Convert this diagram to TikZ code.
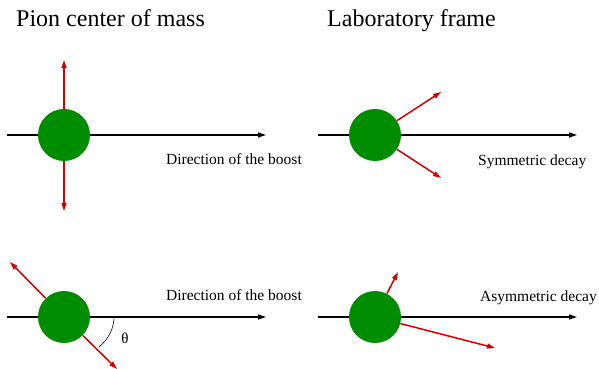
\documentclass[tikz,border=0pt]{standalone}
\usepackage{fontspec}
\setmainfont{Liberation Serif}
\usetikzlibrary{arrows.meta}
\definecolor{pion}{RGB}{0,140,0}
\definecolor{decay}{RGB}{215,0,0}
\begin{document}
\begin{tikzpicture}[x=1pt,y=1pt,
  pion/.style={circle,fill=pion,draw=none,minimum size=52pt,inner sep=0pt},
  axis/.style={line width=1.3pt,-{Triangle[length=8pt,width=5pt]}},
  photon/.style={line width=1.5pt,draw=decay,-{Triangle[length=8pt,width=5pt]}},
  title/.style={anchor=base west,inner sep=0pt,font=\fontsize{24}{28}\selectfont},
  lbl/.style={anchor=base west,inner sep=0pt,font=\fontsize{15.5}{18}\selectfont}]
\useasboundingbox (0,0) rectangle (599,369);
% titles
\node[title] (t1) at (16,342) {Pion center of mass};
\node[title] (t2) at (327,342) {Laboratory frame};
% axes
\coordinate (s1) at (7,234); \coordinate (e1) at (266,234);
\coordinate (s2) at (318,234); \coordinate (e2) at (577,234);
\coordinate (s3) at (7,52); \coordinate (e3) at (266,52);
\coordinate (s4) at (318,52); \coordinate (e4) at (577,52);
\draw[axis] (s1) -- (e1);
\draw[axis] (s2) -- (e2);
\draw[axis] (s3) -- (e3);
\draw[axis] (s4) -- (e4);
% pions
\node[pion] (c1) at (64,234) {};
\node[pion] (c2) at (375,234) {};
\node[pion] (c3) at (64,52) {};
\node[pion] (c4) at (375,52) {};
% decay products
\coordinate (u1) at (64,309); \coordinate (d1) at (64,158);
\draw[photon] (c1) -- (u1);
\draw[photon] (c1) -- (d1);
\coordinate (u2) at (441,277); \coordinate (d2) at (441,191);
\draw[photon] (c2) -- (u2);
\draw[photon] (c2) -- (d2);
\coordinate (u3) at (10,107); \coordinate (d3) at (117,0);
\draw[photon] (c3) -- (u3);
\draw[photon] (c3) -- (d3);
\coordinate (u4) at (398,97); \coordinate (d4) at (495,21);
\draw[photon] (c4) -- (u4);
\draw[photon] (c4) -- (d4);
% angle
\coordinate (a0) at (114,52);
\draw[line width=0.6pt] (a0) arc[start angle=0,end angle=-46,x radius=50,y radius=42];
\node[font=\fontsize{15}{18}\selectfont] (th) at (125,31) {θ};
% labels
\node[lbl] (l1) at (166,204) {Direction of the boost};
\node[lbl] (l2) at (478,203) {Symmetric decay};
\node[lbl] (l3) at (166,68) {Direction of the boost};
\node[lbl] (l4) at (480,67) {Asymmetric decay};
\end{tikzpicture}
\end{document}
